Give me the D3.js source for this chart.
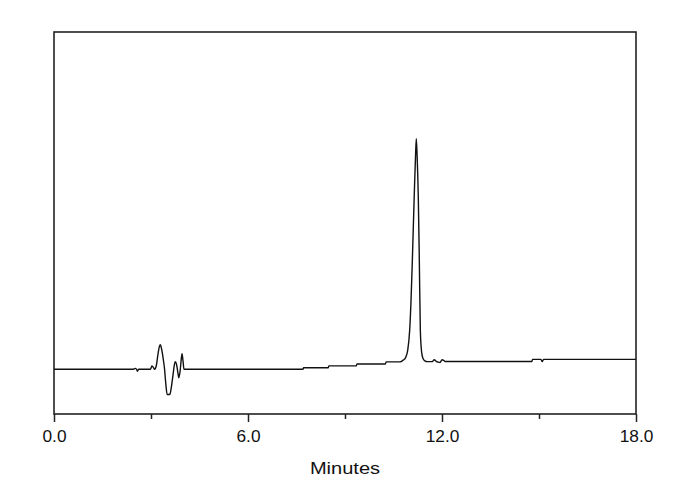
<!DOCTYPE html>
<html>
<head>
<meta charset="utf-8">
<script src="https://cdn.jsdelivr.net/npm/d3@7"></script>
<style>
  html, body { margin: 0; padding: 0; background: #fff; }
  svg { display: block; }
</style>
</head>
<body>
<svg id="chart" width="690" height="490"></svg>
<script>
// Chromatogram trace: retention time (minutes) and detector response (arbitrary units)
const times = [
  0, 2.46, 2.51, 2.55, 2.58, 2.62,
  2.98, 3.03, 3.08, 3.11, 3.16, 3.22, 3.26, 3.29, 3.32, 3.35, 3.38, 3.42,
  3.46, 3.50, 3.58, 3.62, 3.68, 3.72, 3.75, 3.79, 3.83, 3.86, 3.90, 3.94, 3.96, 3.99, 4.02,
  7.70, 7.72, 8.48, 8.50, 9.35, 9.37, 10.25, 10.27,
  10.70, 10.80, 10.87, 10.94, 11.00, 11.04, 11.08, 11.14, 11.18, 11.205, 11.23, 11.267, 11.30, 11.33, 11.37, 11.41, 11.47, 11.55,
  11.70, 11.76, 11.82, 11.88, 11.94, 12.00, 12.04, 12.10,
  14.78, 14.80, 15.06, 15.10, 15.14, 18.0
];
const response = [
  0, 0, 0.25, 0.05, -0.5, 0,
  0, 0.85, 0.4, 0, 0.8, 4.2, 6.0, 6.45, 5.6, 4.3, 2.6, 0,
  -4.0, -6.6, -6.6, -5.2, -1.5, 1.0, 2.0, 1.3, -0.8, -2.2, -0.5, 3.0, 4.1, 2.2, 0,
  0, 0.4, 0.4, 0.9, 0.9, 1.4, 1.4, 1.95,
  1.95, 2.4, 3.0, 5.0, 10.2, 17.5, 27.7, 45.1, 55.5, 60.4, 56.0, 45.1, 27.7, 10.2, 4.5, 2.9, 2.2, 2.0,
  2.0, 2.5, 2.1, 1.9, 1.8, 2.5, 2.4, 2.05,
  2.05, 2.6, 2.6, 2.0, 2.6, 2.6
];
const majorTicks = [0, 6, 12, 18];
const minorTicks = [3, 9, 15];
const xTitle = "Minutes";

const svg = d3.select("#chart");
const mLeft = 54, mRight = 636, mTop = 32, mBottom = 414;

const x = d3.scaleLinear().domain([0, 18]).range([mLeft, mRight]);
const y = d3.scaleLinear().domain([-11.7, 88.3]).range([mBottom, mTop]);

// frame
svg.append("rect")
  .attr("x", mLeft).attr("y", mTop)
  .attr("width", mRight - mLeft).attr("height", mBottom - mTop)
  .attr("fill", "none").attr("stroke", "#222").attr("stroke-width", 1.6);

// bottom axis: major ticks with labels
const axisMajor = d3.axisBottom(x)
  .tickValues(majorTicks)
  .tickSize(8)
  .tickPadding(8)
  .tickFormat(d3.format(".1f"));
const gMaj = svg.append("g")
  .attr("transform", `translate(0,${mBottom})`)
  .call(axisMajor);
gMaj.select(".domain").remove();
gMaj.selectAll(".tick line").attr("stroke", "#222").attr("stroke-width", 1.5);
gMaj.selectAll(".tick text")
  .attr("fill", "#111")
  .style("font-family", "'Liberation Sans', Arial, sans-serif")
  .style("font-size", "16px")
  .attr("y", 0)
  .attr("dy", null)
  .attr("transform", "translate(0,27.7) scale(1.08,1)");

// minor ticks
const axisMinor = d3.axisBottom(x)
  .tickValues(minorTicks)
  .tickSize(5)
  .tickFormat("");
const gMin = svg.append("g")
  .attr("transform", `translate(0,${mBottom})`)
  .call(axisMinor);
gMin.select(".domain").remove();
gMin.selectAll(".tick line").attr("stroke", "#222").attr("stroke-width", 1.5);

// x title
svg.append("text")
  .attr("transform", `translate(${(mLeft + mRight) / 2},474.3) scale(1.18,1)`)
  .attr("text-anchor", "middle")
  .attr("fill", "#111")
  .style("font-family", "'Liberation Sans', Arial, sans-serif")
  .style("font-size", "17px")
  .text(xTitle);

// trace
const data = times.map((t, i) => ({ t, v: response[i] }));
const line = d3.line()
  .x(d => x(d.t))
  .y(d => y(d.v))
  .curve(d3.curveMonotoneX);

svg.append("path")
  .datum(data)
  .attr("fill", "none")
  .attr("stroke", "#111")
  .attr("stroke-width", 1.4)
  .attr("stroke-linejoin", "round")
  .attr("d", line);
</script>
</body>
</html>
